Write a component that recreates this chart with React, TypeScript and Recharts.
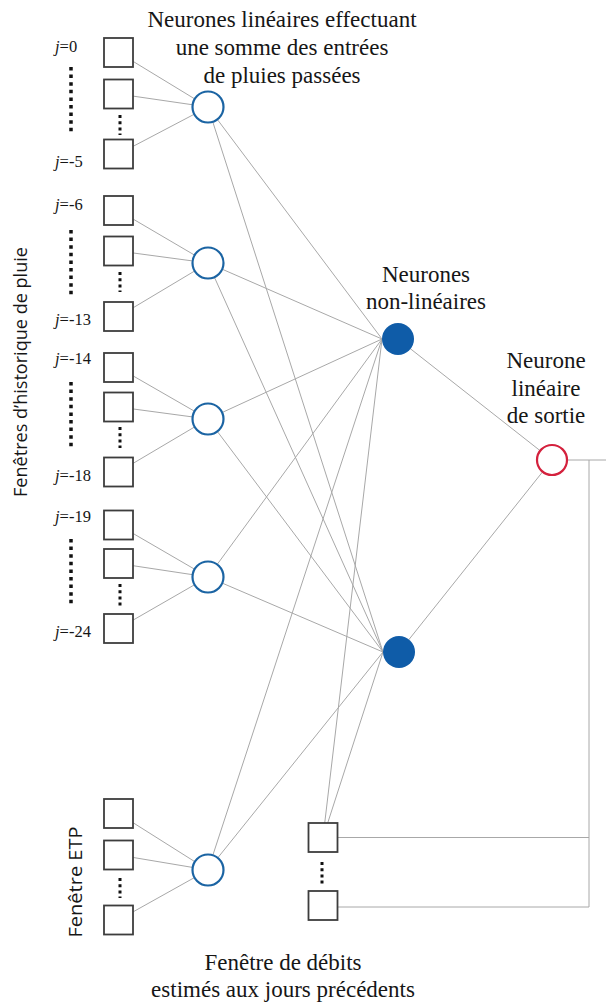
import React from 'react';
import { ScatterChart, Scatter, XAxis, YAxis } from 'recharts';

const W = 606;
const H = 1003;

// ---- diagram data (positions in the picture's own units) ----
const rainSquareX = 118.5;
const rainSquareY = [52.5, 94, 154, 210.5, 251, 316.5, 367.5, 407, 472, 525, 563.5, 628.5];
const etpSquareY = [813.5, 855, 920];
const debitSquareX = 323;
const debitSquareY = [837.5, 905.5];
const linearNeuronX = 208;
const linearNeuronY = [107, 263, 419, 577, 870];
const nonlinearNeuronX = [398, 399];
const nonlinearNeuronY = [339, 652];
const outputNeuronX = 552;
const outputNeuronY = 460;
const feedbackX = 589;
const feedbackBottomY = 907;
const outputEndX = 606;

const jLabels = ['0', '-5', '-6', '-13', '-14', '-18', '-19', '-24'];
const jLabelY = [52, 167, 210, 325, 364, 481, 522, 637];
const jLabelX = 55;

const bigDotX = 71;
const bigDotRanges = [[67, 135], [230, 297], [382, 450], [539, 607]];
const smallDotX = 120;
const smallDotRanges = [[115, 135], [272, 292], [427, 448], [584, 606], [878, 898]];
const debitDotRange = [862, 885];

const titleLines = ['Neurones linéaires effectuant', 'une somme des entrées', 'de pluies passées'];
const titleX = 282;
const titleY = [27, 55, 83];
const nonlinearLines = ['Neurones', 'non-linéaires'];
const nonlinearTextX = 426;
const nonlinearTextY = [282, 309];
const outputLines = ['Neurone', 'linéaire', 'de sortie'];
const outputTextX = 546;
const outputTextY = [368, 396, 423];
const debitLines = ['Fenêtre de débits', 'estimés aux jours précédents'];
const debitTextX = 283;
const debitTextY = [970, 997];
const sideLabels = ['Fenêtres d’historique de pluie', 'Fenêtre ETP'];
const sideLabelX = [20, 75];
const sideLabelY = [372, 882];
const sideLabelLen = [250, 111];

// ---- styles ----
const LINE = '#a8a8a8';
const BOX = '#3d3d3d';
const BLUE = '#1b64a3';
const FILL_BLUE = '#0f5ca8';
const RED = '#d4213d';
const SERIF = 'Liberation Serif';
const SANS = 'Open Sans';
const SQ = 29;
const R_LIN = 15.5;
const R_NL = 16;
const R_OUT = 15;

type P = { x: number; y: number };

// ---- build edges from node references ----
const edges: [P, P][] = [];
const allInputY = [...rainSquareY, ...etpSquareY];
allInputY.forEach((y, i) => {
  const g = Math.floor(i / 3);
  edges.push([{ x: rainSquareX, y }, { x: linearNeuronX, y: linearNeuronY[g] }]);
});
linearNeuronY.forEach((ly) => {
  nonlinearNeuronX.forEach((nx, k) => {
    edges.push([{ x: linearNeuronX, y: ly }, { x: nx - R_NL, y: nonlinearNeuronY[k] }]);
  });
});
nonlinearNeuronX.forEach((nx, k) => {
  edges.push([{ x: debitSquareX, y: debitSquareY[0] }, { x: nx - R_NL, y: nonlinearNeuronY[k] }]);
  edges.push([{ x: nx, y: nonlinearNeuronY[k] }, { x: outputNeuronX, y: outputNeuronY }]);
});
edges.push([{ x: outputNeuronX, y: outputNeuronY }, { x: outputEndX, y: outputNeuronY }]);
edges.push([{ x: feedbackX, y: outputNeuronY }, { x: feedbackX, y: feedbackBottomY }]);
edges.push([{ x: debitSquareX, y: debitSquareY[0] }, { x: feedbackX, y: debitSquareY[0] }]);
edges.push([{ x: debitSquareX, y: feedbackBottomY }, { x: feedbackX, y: feedbackBottomY }]);

const squares: P[] = [
  ...allInputY.map((y) => ({ x: rainSquareX, y })),
  ...debitSquareY.map((y) => ({ x: debitSquareX, y })),
];
const linearNeurons: P[] = linearNeuronY.map((y) => ({ x: linearNeuronX, y }));
const nonlinearNeurons: P[] = nonlinearNeuronX.map((x, k) => ({ x, y: nonlinearNeuronY[k] }));
const outputNeurons: P[] = [{ x: outputNeuronX, y: outputNeuronY }];

const bigDots: [P, P][] = bigDotRanges.map(([a, b]) => [{ x: bigDotX, y: a }, { x: bigDotX, y: b }]);
const smallDots: [P, P][] = [
  ...smallDotRanges.map(([a, b]) => [{ x: smallDotX, y: a }, { x: smallDotX, y: b }] as [P, P]),
  [{ x: debitSquareX - 1, y: debitDotRange[0] }, { x: debitSquareX - 1, y: debitDotRange[1] }],
];

type T = { x: number; y: number; text: string; kind: string; len?: number };
const texts: T[] = [
  ...titleLines.map((t, i) => ({ x: titleX, y: titleY[i], text: t, kind: 'serif' })),
  ...nonlinearLines.map((t, i) => ({ x: nonlinearTextX, y: nonlinearTextY[i], text: t, kind: 'serif' })),
  ...outputLines.map((t, i) => ({ x: outputTextX, y: outputTextY[i], text: t, kind: 'serif' })),
  ...debitLines.map((t, i) => ({ x: debitTextX, y: debitTextY[i], text: t, kind: 'serif' })),
  ...sideLabels.map((t, i) => ({ x: sideLabelX[i], y: sideLabelY[i], text: t, kind: 'side', len: sideLabelLen[i] })),
  ...jLabels.map((t, i) => ({ x: jLabelX, y: jLabelY[i], text: t, kind: 'j' })),
];

const Empty = () => <g />;

const SquareShape = (p: any) => (
  <rect x={p.cx - SQ / 2} y={p.cy - SQ / 2} width={SQ} height={SQ} fill="#fff" stroke={BOX} strokeWidth={1.8} />
);
const LinearShape = (p: any) => (
  <circle cx={p.cx} cy={p.cy} r={R_LIN} fill="#fff" stroke={BLUE} strokeWidth={2.2} />
);
const NonlinearShape = (p: any) => (
  <circle cx={p.cx} cy={p.cy} r={R_NL} fill={FILL_BLUE} stroke="none" />
);
const OutputShape = (p: any) => (
  <circle cx={p.cx} cy={p.cy} r={R_OUT} fill="#fff" stroke={RED} strokeWidth={2.2} />
);
const TextShape = (p: any) => {
  const d: T = p.payload;
  if (d.kind === 'serif') {
    return (
      <text x={p.cx} y={p.cy} textAnchor="middle" style={{ fontFamily: SERIF }} fontSize={23} fill="#161616">
        {d.text}
      </text>
    );
  }
  if (d.kind === 'side') {
    return (
      <text
        x={p.cx}
        y={p.cy}
        textAnchor="middle"
        dominantBaseline="central"
        style={{ fontFamily: SANS }}
        fontSize={18}
        textLength={d.len}
        lengthAdjust="spacingAndGlyphs"
        fill="#161616"
        transform={`rotate(-90, ${p.cx}, ${p.cy})`}
      >
        {d.text}
      </text>
    );
  }
  return (
    <text x={p.cx} y={p.cy} textAnchor="start" style={{ fontFamily: SERIF }} fontSize={16.5} fill="#161616">
      <tspan fontStyle="italic">j</tspan>
      {'=' + d.text}
    </text>
  );
};

export default function App() {
  return (
    <div style={{ position: 'absolute', left: 0, top: 0, width: W, height: H, background: '#fff' }}>
      <ScatterChart width={W} height={H} margin={{ top: 0, right: 0, bottom: 0, left: 0 }}>
        <XAxis type="number" dataKey="x" domain={[0, W]} hide allowDataOverflow />
        <YAxis type="number" dataKey="y" domain={[0, H]} reversed hide allowDataOverflow />
        {edges.map((e, i) => (
          <Scatter
            key={'e' + i}
            data={e}
            line={{ stroke: LINE, strokeWidth: 1 }}
            shape={Empty}
            isAnimationActive={false}
          />
        ))}
        {bigDots.map((e, i) => (
          <Scatter
            key={'bd' + i}
            data={e}
            line={{ stroke: '#111', strokeWidth: 3.5, strokeDasharray: '3.5 4.1' }}
            shape={Empty}
            isAnimationActive={false}
          />
        ))}
        {smallDots.map((e, i) => (
          <Scatter
            key={'sd' + i}
            data={e}
            line={{ stroke: '#111', strokeWidth: 3, strokeDasharray: '3 3.2' }}
            shape={Empty}
            isAnimationActive={false}
          />
        ))}
        <Scatter data={squares} shape={SquareShape} isAnimationActive={false} />
        <Scatter data={linearNeurons} shape={LinearShape} isAnimationActive={false} />
        <Scatter data={nonlinearNeurons} shape={NonlinearShape} isAnimationActive={false} />
        <Scatter data={outputNeurons} shape={OutputShape} isAnimationActive={false} />
        <Scatter data={texts} shape={TextShape} isAnimationActive={false} />
      </ScatterChart>
    </div>
  );
}
